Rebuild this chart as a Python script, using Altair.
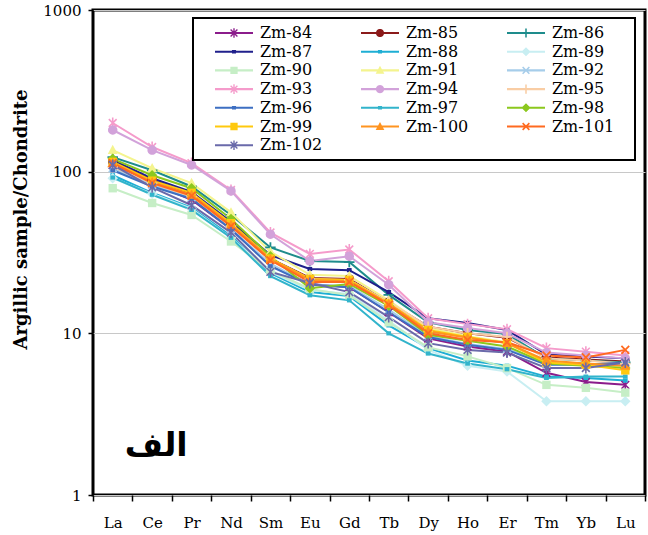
import math
import altair as alt
import pandas as pd

elements = ["La", "Ce", "Pr", "Nd", "Sm", "Eu", "Gd", "Tb", "Dy", "Ho", "Er", "Tm", "Yb", "Lu"]
names = ["Zm-84", "Zm-85", "Zm-86", "Zm-87", "Zm-88", "Zm-89", "Zm-90", "Zm-91", "Zm-92", "Zm-93",
         "Zm-94", "Zm-95", "Zm-96", "Zm-97", "Zm-98", "Zm-99", "Zm-100", "Zm-101", "Zm-102"]

zm84 = [110, 84, 67, 44, 26.4, 20.2, 19.3, 13.5, 9.3, 8.3, 7.7, 5.7, 5.0, 4.8]
zm85 = [115, 89, 73, 47, 29, 22, 21.7, 15.6, 11, 10, 9.4, 7.1, 6.9, 6.7]
zm86 = [123, 102, 81, 54, 34, 28, 27.6, 17.3, 11.7, 10.5, 9.9, 7.0, 6.8, 6.6]
zm87 = [118, 91, 75, 49, 30.5, 25, 24.6, 18, 12.4, 11.6, 10.5, 7.4, 7.2, 7.0]
zm88 = [95, 74, 60, 40, 23.6, 18, 17, 11.2, 8.1, 6.8, 6.3, 5.4, 5.3, 5.1]
zm89 = [91, 73, 59, 39, 24, 18.5, 17.5, 12, 7.9, 6.3, 5.8, 3.8, 3.8, 3.8]
zm90 = [79, 64, 54, 37, 24.5, 18.8, 17.2, 11.7, 8.2, 7.2, 6.1, 4.8, 4.6, 4.3]
zm91 = [136, 105, 85, 56, 32, 23, 22.6, 16, 10.8, 9.6, 8.8, 6.6, 6.5, 6.2]
zm92 = [105, 83, 69, 44, 27, 20, 19.6, 14, 9.6, 8.6, 8.0, 6.5, 6.4, 6.4]
zm93 = [200, 142, 113, 77, 42, 31, 33, 21, 12.4, 11.4, 10.6, 8.1, 7.7, 7.3]
zm94 = [181, 136, 110, 76, 41, 28, 30, 20, 11.7, 10.8, 10, 7.6, 7.3, 7.0]
zm95 = [107, 85, 70, 46, 28.8, 21.7, 21.4, 15.6, 11, 10, 9.5, 7.0, 6.8, 6.5]
zm96 = [102, 81, 68, 44, 26, 20, 19.3, 13.5, 9.5, 8.5, 7.9, 6.4, 6.4, 6.6]
zm97 = [92, 72, 58, 39, 22.6, 17.2, 16, 10, 7.5, 6.5, 6.0, 5.3, 5.4, 5.4]
zm98 = [120, 95, 79, 51, 30, 19, 20.2, 14.8, 9.8, 9.0, 8.3, 6.5, 6.3, 6.1]
zm99 = [115, 88, 74, 48, 29, 21.7, 21.4, 15.3, 10.5, 9.5, 8.7, 6.6, 6.4, 5.9]
zm100 = [113, 86, 72, 47, 28.8, 21.4, 21, 15.2, 10.3, 9.4, 8.7, 6.8, 6.5, 6.3]
zm101 = [113, 85, 71, 46, 28.3, 20.8, 20.8, 15, 10, 9.1, 8.8, 7.3, 7.1, 7.9]
zm102 = [110, 80, 62, 42, 24, 20.5, 18, 12.6, 8.7, 7.9, 7.6, 6.1, 6.1, 6.6]

series_values = [zm84, zm85, zm86, zm87, zm88, zm89, zm90, zm91, zm92, zm93,
                 zm94, zm95, zm96, zm97, zm98, zm99, zm100, zm101, zm102]

colors = ["#8B1C8B", "#8B1A1A", "#1E8C8C", "#20208C", "#1EAED4", "#C8EEF2", "#C6EEC6",
          "#F4F48E", "#A6CDEA", "#F59BCB", "#D2A2DA", "#F9CDA4", "#3D6FC2", "#32B4CB",
          "#8CC81E", "#FFC90E", "#FF9420", "#FF6A20", "#6A6AAA"]
kinds = ["asterisk", "circle", "plus", "dash", "dash", "diamond", "square", "triangle", "x",
         "asterisk", "circle", "plus", "dash", "dash", "diamond", "square", "triangle", "x",
         "asterisk"]

SERIF = "DejaVu Serif"


# ---- marker geometry (styles) ----
def rect(hw, hh, ang=0.0):
    c, s = math.cos(ang), math.sin(ang)
    pts = [(-hw, -hh), (hw, -hh), (hw, hh), (-hw, hh)]
    return [(x * c - y * s, x * s + y * c) for x, y in pts]


def orient(poly):
    a = sum(poly[i][0] * poly[(i + 1) % len(poly)][1] - poly[(i + 1) % len(poly)][0] * poly[i][1]
            for i in range(len(poly)))
    return poly if a > 0 else poly[::-1]


def shape_polys(kind):
    if kind == "circle":
        return [[(0.9 * math.cos(2 * math.pi * i / 24), 0.9 * math.sin(2 * math.pi * i / 24)) for i in range(24)]]
    if kind == "square":
        return [rect(0.8, 0.8)]
    if kind == "triangle":
        return [[(0, -1.0), (0.95, 0.75), (-0.95, 0.75)]]
    if kind == "diamond":
        return [[(0, -1.0), (1.0, 0), (0, 1.0), (-1.0, 0)]]
    if kind == "plus":
        return [rect(0.17, 1.0), rect(1.0, 0.17)]
    if kind == "x":
        return [rect(0.17, 1.05, math.pi / 4), rect(0.17, 1.05, -math.pi / 4)]
    if kind == "asterisk":
        return [rect(0.15, 1.05), rect(0.15, 1.05, math.pi / 4), rect(0.15, 1.05, -math.pi / 4)]
    if kind == "dash":
        return [rect(0.45, 0.4)]
    return []


def to_path(polys, k=1.0):
    out = []
    for p in polys:
        p = orient([(x * k, y * k) for x, y in p])
        out.append("M" + "L".join(f"{x:.3f},{y:.3f}" for x, y in p) + "Z")
    return "".join(out)


plot_paths = [to_path(shape_polys(k)) for k in kinds]
legend_paths = [to_path([rect(1.0, 0.055)]) + to_path(shape_polys(k), 0.24) for k in kinds]

rows = []
for n, vals in zip(names, series_values):
    for i, (e, v) in enumerate(zip(elements, vals)):
        rows.append({"name": n, "element": e, "idx": i, "value": v})
df = pd.DataFrame(rows)
leg_df = pd.DataFrame({"name": names, "element": ["La"] * len(names), "value": [0.01] * len(names)})
ann_df = pd.DataFrame({"element": ["Ce"], "value": [2], "label": ["الف"]})

x_enc = alt.X("element:N", sort=elements,
              scale=alt.Scale(type="band", domain=elements, paddingInner=0, paddingOuter=0),
              bandPosition=0.5,
              axis=alt.Axis(title=None, labelFont=SERIF, labelFontSize=15, labelColor="black",
                            labelAngle=0, tickColor="black", tickSize=6, tickWidth=1.5, tickBand="extent",
                            labelPadding=14, domain=False, grid=False))
y_enc = alt.Y("value:Q",
              scale=alt.Scale(type="log", domain=[1, 1000], nice=False),
              axis=alt.Axis(title="Argillic sample/Chondrite", values=[1, 10, 100, 1000], format="d",
                            labelFont=SERIF, labelFontSize=15, labelColor="black",
                            tickColor="black", tickSize=5, tickWidth=1.5, labelPadding=7,
                            grid=True, gridColor="#c8c8c8", gridWidth=1, domain=False,
                            titleFont=SERIF, titleFontSize=18, titleFontWeight="bold",
                            titleColor="black", titleX=-72, titleY=209, titleAlign="center",
                            titleBaseline="middle", titleAngle=270))

color_scale = alt.Scale(domain=names, range=colors)

lines = alt.Chart(df).mark_line(strokeWidth=2).encode(
    x=x_enc, y=y_enc,
    color=alt.Color("name:N", scale=color_scale, legend=None),
    order=alt.Order("idx:Q"),
)
points = alt.Chart(df).mark_point(filled=True, size=110, opacity=1, strokeWidth=0).encode(
    x=x_enc, y=y_enc,
    color=alt.Color("name:N", scale=color_scale, legend=None),
    shape=alt.Shape("name:N", scale=alt.Scale(domain=names, range=plot_paths), legend=None),
)
box = alt.Chart(pd.DataFrame({"a": [0]})).mark_rect(fill="white", stroke="black", strokeWidth=2).encode(
    x=alt.value(100), x2=alt.value(542), y=alt.value(8), y2=alt.value(150)
)
leg_props = dict(title=None, orient="none", legendX=122, legendY=14, columns=3, direction="horizontal",
                 gridAlign="all",
                 symbolSize=1444, clipHeight=18, rowPadding=0.7, columnPadding=38, labelOffset=7,
                 labelFont=SERIF, labelFontSize=16, labelColor="black",
                 symbolStrokeWidth=0, symbolOpacity=1, padding=0, labelLimit=200)
leg_layer = alt.Chart(leg_df).mark_point(filled=True, size=1444, opacity=1, clip=True, strokeWidth=0).encode(
    x=x_enc, y=y_enc,
    color=alt.Color("name:N", scale=color_scale, legend=alt.Legend(**leg_props)),
    shape=alt.Shape("name:N", scale=alt.Scale(domain=names, range=legend_paths), legend=alt.Legend(**leg_props)),
)
ann = alt.Chart(ann_df).mark_text(font="DejaVu Sans", fontWeight="bold", fontSize=33, dx=4,
                                  align="center", baseline="middle", color="black").encode(
    x=x_enc, y=y_enc, text="label:N"
)

chart = alt.layer(lines, points, box, leg_layer, ann).resolve_scale(
    color="independent", shape="independent"
).properties(
    width=552, height=485,
    autosize=alt.AutoSizeParams(type="none"),
    padding={"left": 93, "top": 10, "right": 3, "bottom": 40},
).configure_view(stroke="black", strokeWidth=3)

chart.save("out.html", embed_options={"renderer": "svg", "actions": False})
